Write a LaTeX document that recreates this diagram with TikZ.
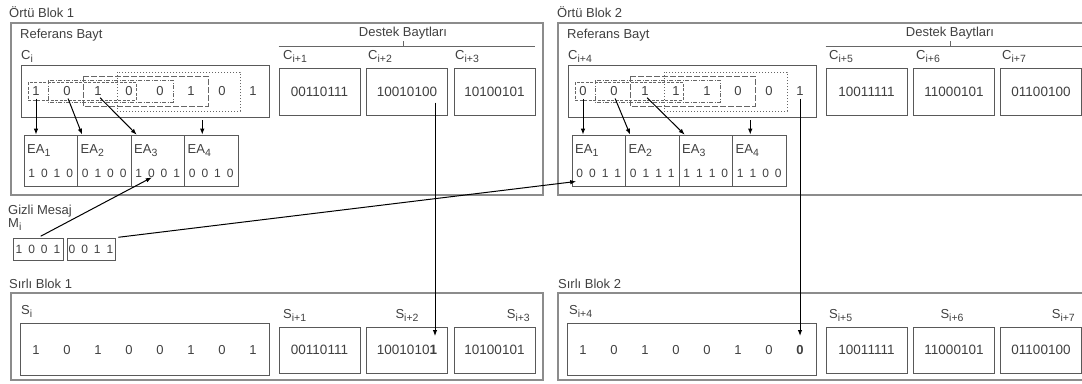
\documentclass[tikz,border=0pt]{standalone}
\usepackage{fontspec}
\setmainfont{Liberation Sans}
\usetikzlibrary{arrows.meta}

\newcommand{\idx}[1]{\raisebox{-3pt}{\fontsize{10.5}{12}\selectfont #1}}

\begin{document}
\begin{tikzpicture}[x=1pt, y=-1pt, >={Latex[length=6pt, width=4.5pt]}]
    \useasboundingbox (0,0) rectangle (1082,383);
    {
        \tikzset{every node/.style = {inner sep=0pt, text=black!75, font=\fontsize{13}{15}\selectfont}}
        \tikzset{frame/.style = {draw=black!45, line width=1.1pt, minimum width=532, minimum height=#1}}
        \tikzset{cell/.style = {draw=black!65, line width=0.7pt}}
        \tikzset{byte/.style = {cell, minimum width=81, minimum height=#1, font=\fontsize{13.5}{15}\selectfont}}
        \tikzset{bit/.style = {font=\fontsize{13}{15}\selectfont}}
        \tikzset{lbl/.style = {anchor=base west}}
        \tikzset{val/.style = {font=\fontsize{12}{14}\selectfont}}

        % Örtü Blok 1
        \node[lbl] (t1) at (9,17) {Örtü Blok 1};
        \node[frame=172] (o1) at (277,109) {};
        \node[lbl] (rb1) at (20,38) {Referans Bayt};
        \node[lbl] (ci) at (21,59) {C\idx{i}};
        \node[cell, minimum width=248, minimum height=52] (byte1) at (145,91) {};
        \foreach \b [count=\k] in {1,0,1,0,0,1,0,1}
            \node[bit] (c1b\k) at ({36+31*(\k-1)},91) {\b};
        \node[anchor=base] (db1) at (403,36) {Destek Baytları};
        \node[lbl] (ci1) at (283,59) {C\idx{i+1}};
        \node[lbl] (ci2) at (368,59) {C\idx{i+2}};
        \node[lbl] (ci3) at (455,59) {C\idx{i+3}};
        \node[byte=47] (c11) at (319.5,91.5) {00110111};
        \node[byte=47] (c12) at (407,91.5) {10010100};
        \node[byte=47] (c13) at (494.5,91.5) {10100101};
        \foreach \v [count=\k] in {1\enspace0\enspace1\enspace0, 0\enspace1\enspace0\enspace0,
                                   1\enspace0\enspace0\enspace1, 0\enspace0\enspace1\enspace0} {
            \node[cell, minimum width=53.5, minimum height=51] (ea1\k) at ({24+53.5*(\k-0.5)},160.5) {};
            \node[lbl] (l1\k) at ({24+53.5*(\k-1)+3},153) {EA\idx{\k}};
            \node[val] (v1\k) at ({24+53.5*(\k-0.5)},173) {\v};
        }

        % Örtü Blok 2
        \node[lbl] (t2) at (557,17) {Örtü Blok 2};
        \node[frame=172] (o2) at (824,109) {};
        \node[lbl] (rb2) at (567,38) {Referans Bayt};
        \node[lbl] (ci4) at (568,59) {C\idx{i+4}};
        \node[cell, minimum width=248, minimum height=52] (byte2) at (692,91) {};
        \foreach \b [count=\k] in {0,0,1,1,1,0,0,1}
            \node[bit] (c2b\k) at ({583+31*(\k-1)},91) {\b};
        \node[anchor=base] (db2) at (950,36) {Destek Baytları};
        \node[lbl] (ci5) at (829,59) {C\idx{i+5}};
        \node[lbl] (ci6) at (916,59) {C\idx{i+6}};
        \node[lbl] (ci7) at (1002,59) {C\idx{i+7}};
        \node[byte=47] (c21) at (866.5,91.5) {10011111};
        \node[byte=47] (c22) at (954,91.5) {11000101};
        \node[byte=47] (c23) at (1041,91.5) {01100100};
        \foreach \v [count=\k] in {0\enspace0\enspace1\enspace1, 0\enspace1\enspace1\enspace1,
                                   1\enspace1\enspace1\enspace0, 1\enspace1\enspace0\enspace0} {
            \node[cell, minimum width=53.5, minimum height=51] (ea2\k) at ({572+53.5*(\k-0.5)},160.5) {};
            \node[lbl] (l2\k) at ({572+53.5*(\k-1)+3},153) {EA\idx{\k}};
            \node[val] (v2\k) at ({572+53.5*(\k-0.5)},173) {\v};
        }

        % Gizli Mesaj
        \node[lbl] (gm) at (8,214) {Gizli Mesaj};
        \node[lbl] (mi) at (8,227) {M\idx{i}};
        \node[cell, minimum width=50, minimum height=22, font=\fontsize{12}{14}\selectfont] (m1) at (38,249) {1\enspace0\enspace0\enspace1};
        \node[cell, minimum width=48, minimum height=22, font=\fontsize{12}{14}\selectfont] (m2) at (91,249) {0\enspace0\enspace1\enspace1};

        % Sırlı Blok 1
        \node[lbl] (t3) at (9,288) {Sırlı Blok 1};
        \node[frame=87] (o3) at (277,336.5) {};
        \node[lbl] (si) at (21,314) {S\idx{i}};
        \node[cell, minimum width=249, minimum height=52] (sbyte1) at (145,349) {};
        \foreach \b [count=\k] in {1,0,1,0,0,1,0,1}
            \node[bit] (s1b\k) at ({36+31*(\k-1)},350) {\b};
        \node[lbl] (si1) at (283,318) {S\idx{i+1}};
        \node[anchor=base] (si2) at (407,318) {S\idx{i+2}};
        \node[anchor=base east] (si3) at (530,318) {S\idx{i+3}};
        \node[byte=46] (s11) at (319.5,350) {00110111};
        \node[byte=46] (s12) at (407,350) {1001010\textbf{1}};
        \node[byte=46] (s13) at (494.5,350) {10100101};

        % Sırlı Blok 2
        \node[lbl] (t4) at (558,288) {Sırlı Blok 2};
        \node[frame=87] (o4) at (824,336.5) {};
        \node[lbl] (si4) at (569,314) {S\idx{i+4}};
        \node[cell, minimum width=249, minimum height=52] (sbyte2) at (692,349) {};
        \foreach \b [count=\k] in {1,0,1,0,0,1,0,\textbf{0}}
            \node[bit] (s2b\k) at ({583+31*(\k-1)},350) {\b};
        \node[lbl] (si5) at (829,318) {S\idx{i+5}};
        \node[anchor=base] (si6) at (952,318) {S\idx{i+6}};
        \node[anchor=base east] (si7) at (1075,318) {S\idx{i+7}};
        \node[byte=46] (s21) at (866.5,350) {10011111};
        \node[byte=46] (s22) at (954,350) {11000101};
        \node[byte=46] (s23) at (1041,350) {01100100};
    }

    \tikzset{arr/.style = {->, draw=black, line width=1pt, shorten <=3pt}}
    \tikzset{win/.style = {draw=black!60, line width=0.6pt}}

    % kayan pencereler
    \draw[win, dash pattern=on 3pt off 1.5pt] ([xshift=-8pt,yshift=9pt]c1b1.center) rectangle ([xshift=7pt,yshift=-9pt]c1b4.center);
    \draw[win, dash pattern=on 4pt off 1.5pt on 1pt off 1.5pt] ([xshift=-19pt,yshift=11pt]c1b2.center) rectangle ([xshift=13pt,yshift=-11pt]c1b5.center);
    \draw[win, dash pattern=on 6pt off 2pt] ([xshift=-15pt,yshift=15pt]c1b3.center) rectangle ([xshift=17pt,yshift=-15pt]c1b6.center);
    \draw[win, line width=0.9pt, dash pattern=on 1pt off 2pt] ([xshift=-12pt,yshift=19pt]c1b4.center) rectangle ([xshift=18pt,yshift=-20pt]c1b7.center);

    \draw[win, dash pattern=on 3pt off 1.5pt] ([xshift=-8pt,yshift=9pt]c2b1.center) rectangle ([xshift=7pt,yshift=-9pt]c2b4.center);
    \draw[win, dash pattern=on 4pt off 1.5pt on 1pt off 1.5pt] ([xshift=-19pt,yshift=11pt]c2b2.center) rectangle ([xshift=13pt,yshift=-11pt]c2b5.center);
    \draw[win, dash pattern=on 6pt off 2pt] ([xshift=-15pt,yshift=15pt]c2b3.center) rectangle ([xshift=17pt,yshift=-15pt]c2b6.center);
    \draw[win, line width=0.9pt, dash pattern=on 1pt off 2pt] ([xshift=-12pt,yshift=19pt]c2b4.center) rectangle ([xshift=18pt,yshift=-20pt]c2b7.center);

    % destek baytlari ayraci
    \draw[win, line width=0.8pt] (c11.north west |- 0,46) -- (c13.north east |- 0,46) (db1.base |- 0,41) -- (db1.base |- 0,46);
    \draw[win, line width=0.8pt] (c21.north west |- 0,46) -- (c23.north east |- 0,46) (db2.base |- 0,41) -- (db2.base |- 0,46);

    % bitlerden EA degerlerine
    \draw (c1b1.south) edge[arr] (c1b1.south |- ea11.north);
    \draw (c1b2.south) edge[arr] ([xshift=5pt]ea12.north west);
    \draw (c1b3.south) edge[arr] ([xshift=6pt]ea13.north west);
    \draw ([xshift=-9pt]ea14.north |- byte1.south) edge[arr] ([xshift=-9pt]ea14.north);

    \draw (c2b1.south) edge[arr] (c2b1.south |- ea21.north);
    \draw (c2b2.south) edge[arr] ([xshift=5pt]ea22.north west);
    \draw (c2b3.south) edge[arr] ([xshift=6pt]ea23.north west);
    \draw ([xshift=-9pt]ea24.north |- byte2.south) edge[arr] ([xshift=-9pt]ea24.north);

    % gizli mesaj eslesmeleri
    \draw (m1.north) edge[arr] ([xshift=-6pt]v13.south);
    \draw (m2.north east) edge[arr] ([yshift=-4pt]v21.south west);

    % sirli bloklara
    \draw ([xshift=28pt,yshift=-8pt]c12.center) edge[arr] ([xshift=28pt,yshift=14pt]s12.center);
    \draw (c2b8.south) edge[arr] ([yshift=14pt]s2b8.center);

\end{tikzpicture}
\end{document}
